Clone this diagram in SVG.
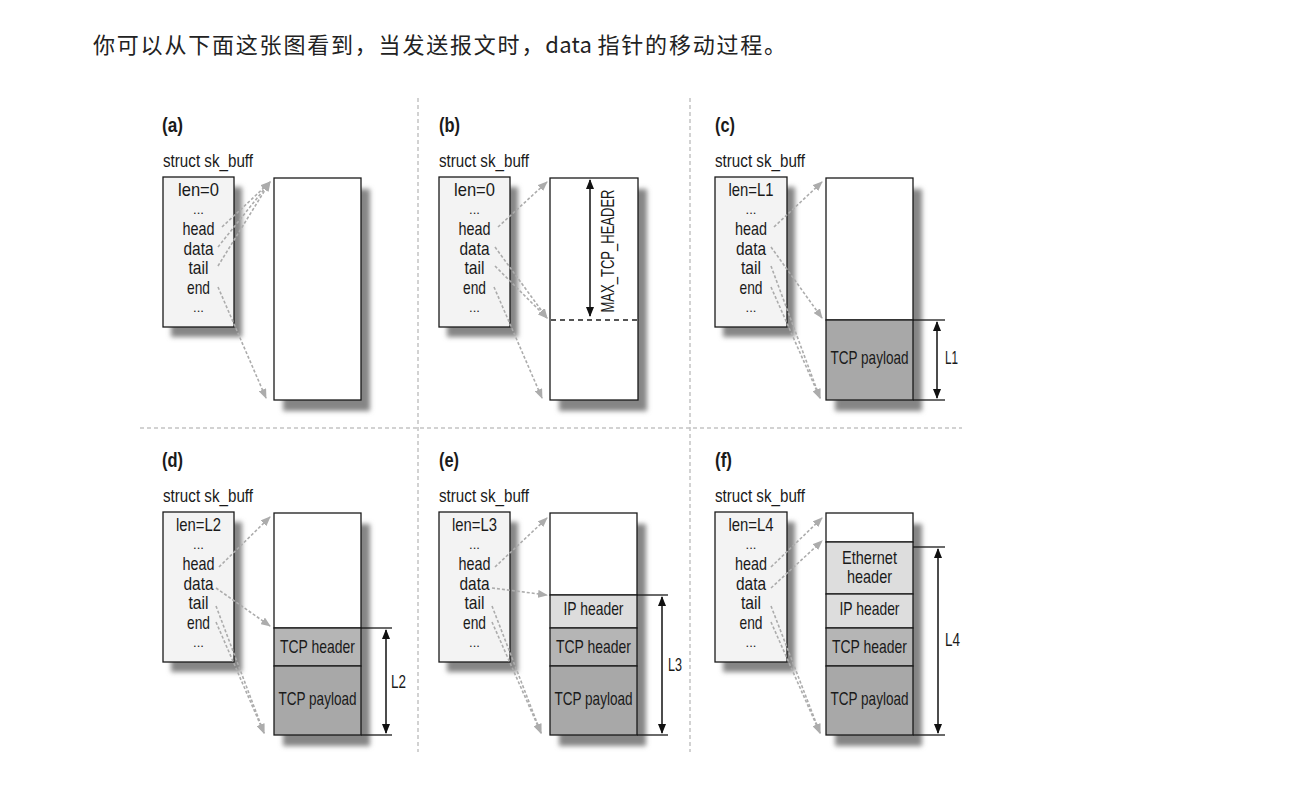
<svg xmlns="http://www.w3.org/2000/svg" width="1302" height="785" viewBox="0 0 1302 785">
<style>
.t{font-family:"Liberation Sans",Arial,sans-serif;fill:#1a1a1a;}
.f{font-size:18.5px;text-anchor:middle;}
.dots{font-size:13px;}
.lbl{font-size:21px;font-weight:bold;}
.st{font-size:18.5px;}
.box{fill:#f3f3f3;stroke:#1a1a1a;stroke-width:1.3;}
.buf{fill:#ffffff;stroke:#1a1a1a;stroke-width:1.3;}
.pay{fill:#a8a8a8;stroke:#1a1a1a;stroke-width:1.3;}
.tcph{fill:#b5b5b5;stroke:#1a1a1a;stroke-width:1.3;}
.iph{fill:#dddddd;stroke:#1a1a1a;stroke-width:1.3;}
.shd{fill:#858585;filter:url(#blur);}
.ptr{fill:none;stroke:#acacac;stroke-width:1.6;stroke-dasharray:3 2;marker-end:url(#ga);}
.dim{fill:none;stroke:#111;stroke-width:1.5;marker-start:url(#ba);marker-end:url(#ba);}
.ext{stroke:#1a1a1a;stroke-width:1.3;}
.div{stroke:#c4c4c4;stroke-width:1.5;stroke-dasharray:4 3;}
</style>
<defs>
<filter id="blur" x="-20%" y="-20%" width="140%" height="140%"><feGaussianBlur stdDeviation="2.4"/></filter>
<marker id="ga" markerUnits="userSpaceOnUse" markerWidth="10" markerHeight="8" refX="9" refY="4" orient="auto"><path d="M0,0 L10,4 L0,8 z" fill="#acacac"/></marker>
<marker id="ba" markerUnits="userSpaceOnUse" markerWidth="10" markerHeight="8" refX="9" refY="4" orient="auto-start-reverse"><path d="M0,0 L10,4 L0,8 z" fill="#111"/></marker>
</defs>
<rect width="1302" height="785" fill="#ffffff"/>
<text x="93" y="53" style="font-family:'Noto Sans CJK SC','Noto Sans',sans-serif;font-size:22px;fill:#222;letter-spacing:1.8px">你可以从下面这张图看到，当发送报文时，<tspan style="letter-spacing:0.3px">data </tspan>指针的移动过程。</text>

<g id="dividers">
<line class="div" x1="418" y1="98" x2="418" y2="752"/>
<line class="div" x1="690" y1="98" x2="690" y2="752"/>
<line class="div" x1="140" y1="428" x2="962" y2="428"/>
</g>

<!-- Panel a -->
<g id="panel-a">
<text class="t lbl" x="162" y="132" textLength="21" lengthAdjust="spacingAndGlyphs">(a)</text>
<text class="t st" x="163" y="167" textLength="90" lengthAdjust="spacingAndGlyphs">struct sk_buff</text>
<rect class="shd" x="171" y="187" width="71" height="150"/>
<rect class="box" x="163" y="177" width="71" height="150"/>
<g class="t f"><text x="198.5" y="196" textLength="41" lengthAdjust="spacingAndGlyphs">len=0</text><text class="dots" x="198.5" y="214">...</text><text x="198.5" y="235" textLength="32" lengthAdjust="spacingAndGlyphs">head</text><text x="198.5" y="255" textLength="30" lengthAdjust="spacingAndGlyphs">data</text><text x="198.5" y="274" textLength="20" lengthAdjust="spacingAndGlyphs">tail</text><text x="198.5" y="294" textLength="23" lengthAdjust="spacingAndGlyphs">end</text><text class="dots" x="198.5" y="312">...</text></g>
</g>
<g id="buffer-a">
<rect class="shd" x="283" y="189" width="87" height="222"/>
<rect class="buf" x="274" y="178" width="87" height="222"/>
</g>

<!-- Panel b -->
<g id="panel-b">
<text class="t lbl" x="439" y="132" textLength="21" lengthAdjust="spacingAndGlyphs">(b)</text>
<text class="t st" x="439" y="167" textLength="90" lengthAdjust="spacingAndGlyphs">struct sk_buff</text>
<rect class="shd" x="447" y="187" width="71" height="150"/>
<rect class="box" x="439" y="177" width="71" height="150"/>
<g class="t f"><text x="474.5" y="196" textLength="41" lengthAdjust="spacingAndGlyphs">len=0</text><text class="dots" x="474.5" y="214">...</text><text x="474.5" y="235" textLength="32" lengthAdjust="spacingAndGlyphs">head</text><text x="474.5" y="255" textLength="30" lengthAdjust="spacingAndGlyphs">data</text><text x="474.5" y="274" textLength="20" lengthAdjust="spacingAndGlyphs">tail</text><text x="474.5" y="294" textLength="23" lengthAdjust="spacingAndGlyphs">end</text><text class="dots" x="474.5" y="312">...</text></g>
</g>
<g id="buffer-b">
<rect class="shd" x="559" y="189" width="88" height="222"/>
<rect class="buf" x="550" y="178" width="88" height="222"/>
<line x1="551" y1="320" x2="637" y2="320" stroke="#555" stroke-width="2" stroke-dasharray="5 4"/>
<line class="dim" x1="590" y1="180" x2="590" y2="316"/>
<text class="t" x="0" y="0" style="font-size:18.5px;text-anchor:middle" textLength="123" lengthAdjust="spacingAndGlyphs" transform="translate(614,251) rotate(-90)">MAX_TCP_HEADER</text>
</g>

<!-- Panel c -->
<g id="panel-c">
<text class="t lbl" x="715" y="132" textLength="20" lengthAdjust="spacingAndGlyphs">(c)</text>
<text class="t st" x="715" y="167" textLength="90" lengthAdjust="spacingAndGlyphs">struct sk_buff</text>
<rect class="shd" x="723" y="187" width="72" height="150"/>
<rect class="box" x="715" y="177" width="72" height="150"/>
<g class="t f"><text x="751" y="196" textLength="45" lengthAdjust="spacingAndGlyphs">len=L1</text><text class="dots" x="751" y="214">...</text><text x="751" y="235" textLength="32" lengthAdjust="spacingAndGlyphs">head</text><text x="751" y="255" textLength="30" lengthAdjust="spacingAndGlyphs">data</text><text x="751" y="274" textLength="20" lengthAdjust="spacingAndGlyphs">tail</text><text x="751" y="294" textLength="23" lengthAdjust="spacingAndGlyphs">end</text><text class="dots" x="751" y="312">...</text></g>
</g>
<g id="buffer-c">
<rect class="shd" x="835" y="189" width="87" height="222"/>
<rect class="buf" x="826" y="178" width="87" height="142"/>
<rect class="pay" x="826" y="320" width="87" height="80"/>
<text class="t f" x="869.5" y="364" textLength="78" lengthAdjust="spacingAndGlyphs">TCP payload</text>
<line class="ext" x1="913" y1="320" x2="945" y2="320"/>
<line class="ext" x1="913" y1="400" x2="945" y2="400"/>
<line class="dim" x1="937" y1="322" x2="937" y2="398"/>
<text class="t" x="945" y="364" style="font-size:18.5px" textLength="13" lengthAdjust="spacingAndGlyphs">L1</text>
</g>

<!-- Panel d -->
<g id="panel-d">
<text class="t lbl" x="162" y="467" textLength="21" lengthAdjust="spacingAndGlyphs">(d)</text>
<text class="t st" x="163" y="502" textLength="90" lengthAdjust="spacingAndGlyphs">struct sk_buff</text>
<rect class="shd" x="171" y="522" width="71" height="150"/>
<rect class="box" x="163" y="512" width="71" height="150"/>
<g class="t f"><text x="198.5" y="531" textLength="45" lengthAdjust="spacingAndGlyphs">len=L2</text><text class="dots" x="198.5" y="549">...</text><text x="198.5" y="570" textLength="32" lengthAdjust="spacingAndGlyphs">head</text><text x="198.5" y="590" textLength="30" lengthAdjust="spacingAndGlyphs">data</text><text x="198.5" y="609" textLength="20" lengthAdjust="spacingAndGlyphs">tail</text><text x="198.5" y="629" textLength="23" lengthAdjust="spacingAndGlyphs">end</text><text class="dots" x="198.5" y="647">...</text></g>
</g>
<g id="buffer-d">
<rect class="shd" x="283" y="524" width="87" height="222"/>
<rect class="buf" x="274" y="513" width="87" height="115"/>
<rect class="tcph" x="274" y="628" width="87" height="38"/>
<rect class="pay" x="274" y="666" width="87" height="69"/>
<text class="t f" x="317.5" y="653" textLength="75" lengthAdjust="spacingAndGlyphs">TCP header</text>
<text class="t f" x="317.5" y="705" textLength="78" lengthAdjust="spacingAndGlyphs">TCP payload</text>
<line class="ext" x1="361" y1="628" x2="392" y2="628"/>
<line class="ext" x1="361" y1="735" x2="392" y2="735"/>
<line class="dim" x1="386" y1="630" x2="386" y2="733"/>
<text class="t" x="391" y="688" style="font-size:18.5px" textLength="15" lengthAdjust="spacingAndGlyphs">L2</text>
</g>

<!-- Panel e -->
<g id="panel-e">
<text class="t lbl" x="439" y="467" textLength="20" lengthAdjust="spacingAndGlyphs">(e)</text>
<text class="t st" x="439" y="502" textLength="90" lengthAdjust="spacingAndGlyphs">struct sk_buff</text>
<rect class="shd" x="447" y="522" width="71" height="150"/>
<rect class="box" x="439" y="512" width="71" height="150"/>
<g class="t f"><text x="474.5" y="531" textLength="45" lengthAdjust="spacingAndGlyphs">len=L3</text><text class="dots" x="474.5" y="549">...</text><text x="474.5" y="570" textLength="32" lengthAdjust="spacingAndGlyphs">head</text><text x="474.5" y="590" textLength="30" lengthAdjust="spacingAndGlyphs">data</text><text x="474.5" y="609" textLength="20" lengthAdjust="spacingAndGlyphs">tail</text><text x="474.5" y="629" textLength="23" lengthAdjust="spacingAndGlyphs">end</text><text class="dots" x="474.5" y="647">...</text></g>
</g>
<g id="buffer-e">
<rect class="shd" x="559" y="524" width="87" height="222"/>
<rect class="buf" x="550" y="513" width="87" height="82"/>
<rect class="iph" x="550" y="595" width="87" height="33"/>
<rect class="tcph" x="550" y="628" width="87" height="38"/>
<rect class="pay" x="550" y="666" width="87" height="69"/>
<text class="t f" x="593.5" y="615" textLength="60" lengthAdjust="spacingAndGlyphs">IP header</text>
<text class="t f" x="593.5" y="653" textLength="75" lengthAdjust="spacingAndGlyphs">TCP header</text>
<text class="t f" x="593.5" y="705" textLength="78" lengthAdjust="spacingAndGlyphs">TCP payload</text>
<line class="ext" x1="637" y1="595" x2="668" y2="595"/>
<line class="ext" x1="637" y1="735" x2="668" y2="735"/>
<line class="dim" x1="662" y1="597" x2="662" y2="733"/>
<text class="t" x="668" y="671" style="font-size:18.5px" textLength="14" lengthAdjust="spacingAndGlyphs">L3</text>
</g>

<!-- Panel f -->
<g id="panel-f">
<text class="t lbl" x="715" y="467" textLength="17" lengthAdjust="spacingAndGlyphs">(f)</text>
<text class="t st" x="715" y="502" textLength="90" lengthAdjust="spacingAndGlyphs">struct sk_buff</text>
<rect class="shd" x="723" y="522" width="72" height="150"/>
<rect class="box" x="715" y="512" width="72" height="150"/>
<g class="t f"><text x="751" y="531" textLength="45" lengthAdjust="spacingAndGlyphs">len=L4</text><text class="dots" x="751" y="549">...</text><text x="751" y="570" textLength="32" lengthAdjust="spacingAndGlyphs">head</text><text x="751" y="590" textLength="30" lengthAdjust="spacingAndGlyphs">data</text><text x="751" y="609" textLength="20" lengthAdjust="spacingAndGlyphs">tail</text><text x="751" y="629" textLength="23" lengthAdjust="spacingAndGlyphs">end</text><text class="dots" x="751" y="647">...</text></g>
</g>
<g id="buffer-f">
<rect class="shd" x="835" y="524" width="87" height="222"/>
<rect class="buf" x="826" y="513" width="87" height="29"/>
<rect class="iph" x="826" y="542" width="87" height="52"/>
<rect class="iph" x="826" y="594" width="87" height="34"/>
<rect class="tcph" x="826" y="628" width="87" height="38"/>
<rect class="pay" x="826" y="666" width="87" height="69"/>
<text class="t f" x="869.5" y="564" textLength="55" lengthAdjust="spacingAndGlyphs">Ethernet</text>
<text class="t f" x="869.5" y="583" textLength="45" lengthAdjust="spacingAndGlyphs">header</text>
<text class="t f" x="869.5" y="615" textLength="60" lengthAdjust="spacingAndGlyphs">IP header</text>
<text class="t f" x="869.5" y="653" textLength="75" lengthAdjust="spacingAndGlyphs">TCP header</text>
<text class="t f" x="869.5" y="705" textLength="78" lengthAdjust="spacingAndGlyphs">TCP payload</text>
<line class="ext" x1="913" y1="547" x2="945" y2="547"/>
<line class="ext" x1="913" y1="735" x2="945" y2="735"/>
<line class="dim" x1="938" y1="549" x2="938" y2="733"/>
<text class="t" x="945" y="646" style="font-size:18.5px" textLength="15" lengthAdjust="spacingAndGlyphs">L4</text>
</g>

<g id="connectors">
<!-- a -->
<path class="ptr" d="M222,227 L270,182"/>
<path class="ptr" d="M218,247 L270,182"/>
<path class="ptr" d="M218,266 L270,182"/>
<path class="ptr" d="M218,287 L266,398"/>
<!-- b -->
<path class="ptr" d="M498,227 L547,182"/>
<path class="ptr" d="M495,247 L547,318"/>
<path class="ptr" d="M495,266 L547,318"/>
<path class="ptr" d="M494,287 L542,398"/>
<!-- c -->
<path class="ptr" d="M774,227 L822,182"/>
<path class="ptr" d="M771,247 L822,318"/>
<path class="ptr" d="M771,266 L820,398"/>
<path class="ptr" d="M771,287 L820,398"/>
<!-- d -->
<path class="ptr" d="M219,567 L270,517"/>
<path class="ptr" d="M216,588 L270,626"/>
<path class="ptr" d="M216,606 L264,733"/>
<path class="ptr" d="M216,622 L264,733"/>
<!-- e -->
<path class="ptr" d="M495,567 L547,518"/>
<path class="ptr" d="M492,588 L547,595"/>
<path class="ptr" d="M492,606 L541,733"/>
<path class="ptr" d="M492,622 L541,733"/>
<!-- f -->
<path class="ptr" d="M771,567 L822,518"/>
<path class="ptr" d="M771,588 L822,541"/>
<path class="ptr" d="M771,606 L820,733"/>
<path class="ptr" d="M771,622 L820,733"/>
</g>
</svg>
